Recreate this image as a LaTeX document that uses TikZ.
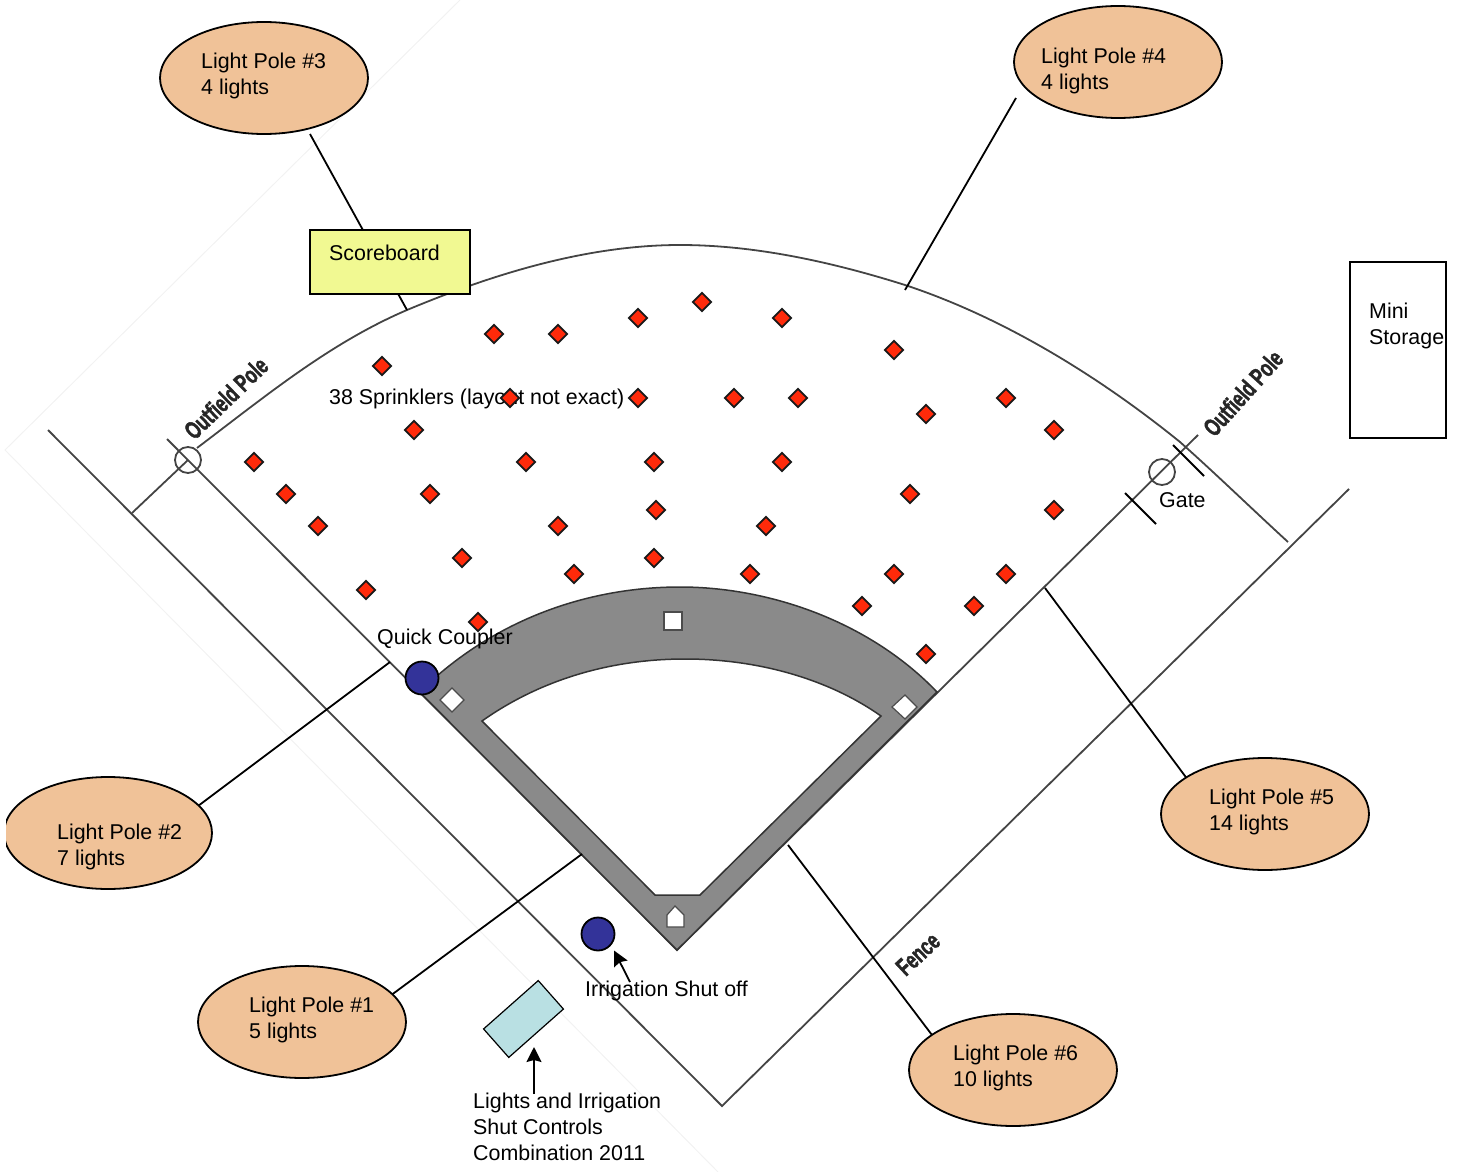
\documentclass[tikz,border=0pt]{standalone}
\usepackage{fontspec}
\setmainfont{Liberation Sans}
\newfontfamily\printfont{Liberation Sans}[BoldFeatures={FakeBold=2}]
\usetikzlibrary{shapes.geometric,arrows.meta}
\definecolor{poleFill}{HTML}{F0C298}
\definecolor{boardFill}{HTML}{F1F992}
\definecolor{shedFill}{HTML}{B9E0E3}
\definecolor{couplerFill}{HTML}{333399}
\definecolor{clayFill}{HTML}{8A8A8A}
\definecolor{scanLine}{HTML}{444444}
\definecolor{sprinklerFill}{HTML}{FF2A0A}
\tikzset{every node/.append style={font=\fontsize{21.4}{26}\selectfont}}

\begin{document}
\begin{tikzpicture}
[x=1pt,y=-1pt,
  fieldLine/.style={-,draw=scanLine,line width=1.8pt},
  faintLine/.style={-,draw=black!5,line width=1pt},
  lineDecorate/.style={-,black,line width=1.8pt},
  arrowDecorate/.style={-{Stealth[length=15pt,width=15pt,inset=2pt]},black,line width=1.8pt},
  sprinklerDecorate/.style={shape=diamond,draw=black!90,fill=sprinklerFill,line width=1.8pt,inner sep=0pt,minimum size=19pt},
  poleDecorate/.style={shape=ellipse,draw=black,fill=poleFill,line width=1.8pt,inner sep=0pt,minimum width=208pt,minimum height=112pt},
  couplerDecorate/.style={shape=ellipse,draw=black,fill=couplerFill,line width=1.8pt,inner sep=0pt,minimum width=33pt,minimum height=33pt},
  labelDecorate/.style={anchor=west,align=left,inner sep=0pt},
  printDecorate/.style={font=\fontsize{25}{30}\printfont\selectfont\bfseries,xscale=0.68,text=black!85,inner sep=0pt},
  baseDecorate/.style={draw=black!70,fill=white,line width=1.2pt}]
\useasboundingbox (0,0) rectangle (1460,1172);
%% edges of the scanned sheet
\draw[faintLine] (460,0) -- (5,450) -- (718,1172);
%% outfield, foul lines and fence
\coordinate (home) at (677,950);
\coordinate (leftPole) at (188,460);
\coordinate (gatePole) at (1162,472);
\draw[fieldLine] (167,439) -- (home) -- (1198,435);
\draw[fieldLine] (197,448) .. controls (267,395) and (330,343) .. (407,310)
  .. controls (493,274) and (587,245) .. (680,245)
  .. controls (755,245) and (832,262) .. (905,285)
  .. controls (1005,318) and (1101,378) .. (1180,442)
  .. controls (1216,474) and (1252,509) .. (1288,542);
\draw[fieldLine] (48,430) -- (722,1106) -- (1349,489);
\draw[fieldLine] (leftPole) -- (132,513);
\node (leftMark) at (leftPole) [shape=circle,draw=scanLine,line width=1.8pt,minimum size=26pt,inner sep=0pt] {};
\node (gateMark) at (gatePole) [shape=circle,draw=scanLine,line width=1.8pt,minimum size=26pt,inner sep=0pt] {};
\draw[lineDecorate] (1125,493) -- (1156,524);
\draw[lineDecorate] (1173,445) -- (1204,476);
%% infield
\draw[fill=clayFill,draw=black!80,line width=1.5pt,even odd rule]
  (419.5,692) .. controls (495,618) and (590,587) .. (680,587)
  .. controls (770,587) and (870,622) .. (937,692) -- (home) -- cycle
  (482,721) .. controls (540,680) and (610,659) .. (685,659)
  .. controls (760,659) and (830,680) .. (881,716) -- (700,895) -- (655,895) -- cycle;
\draw[baseDecorate] (664,612) rectangle (682,630);
\draw[baseDecorate] (452,688) -- (464,700) -- (452,712) -- (440,700) -- cycle;
\draw[baseDecorate] (905,695) -- (917,707) -- (905,719) -- (892,707) -- cycle;
\draw[baseDecorate] (675,906) -- (684,915) -- (684,927) -- (667,927) -- (667,915) -- cycle;
%% light pole callouts
\foreach \polename/\sx/\sy/\ex/\ey in {
  poleThree/310/134/407/310,
  poleFour/1016/98/905/290,
  poleFive/1188/780/1045/588,
  poleSix/932/1035/788/845,
  poleTwo/198/806/390/662,
  poleOne/390/996/582/854}
{
  \coordinate (\polename Start) at (\sx,\sy);
  \coordinate (\polename End) at (\ex,\ey);
  \draw[lineDecorate] (\polename Start) -- (\polename End);
}
\foreach \polename/\x/\y/\tx/\ty/\txt in {
  poleThree/264/78/201/76/{Light Pole \#3\\4 lights},
  poleFour/1118/62/1041/71/{Light Pole \#4\\4 lights},
  poleFive/1265/814/1209/812/{Light Pole \#5\\14 lights},
  poleSix/1013/1070/953/1068/{Light Pole \#6\\10 lights},
  poleOne/302/1022/249/1020/{Light Pole \#1\\5 lights}}
{
  \node (\polename) at (\x,\y) [poleDecorate] {};
  \node (\polename Text) at (\tx,\ty) [labelDecorate] {\txt};
}
\begin{scope}
  \clip (6,760) rectangle (230,900);
  \node (poleTwo) at (108,833) [poleDecorate] {};
\end{scope}
\node (poleTwoText) at (57,847) [labelDecorate] {Light Pole \#2\\7 lights};
%% boxes
\node (board) at (390,262) [shape=rectangle,draw=black,fill=boardFill,line width=1.8pt,minimum width=160pt,minimum height=64pt,inner sep=0pt] {};
\node (boardText) at (329,253) [labelDecorate] {Scoreboard};
\node (storage) at (1398,350) [shape=rectangle,draw=black,fill=white,line width=1.8pt,minimum width=96pt,minimum height=176pt,inner sep=0pt] {};
\node (storageText) at (1369,325.5) [labelDecorate] {Mini\\Storage};
\node (controls) at (523.5,1019) [shape=rectangle,draw=black,fill=shedFill,line width=1.2pt,minimum width=73pt,minimum height=38pt,inner sep=0pt,rotate=41.5] {};
%% text
\node (sprinklerText) at (329,399) [labelDecorate] {38 Sprinklers (layout not exact)};
\node (gateText) at (1159,500) [labelDecorate] {Gate};
\node (controlsText) at (473,1127) [labelDecorate] {Lights and Irrigation\\Shut Controls\\Combination 2011};
\node (shutText) at (585,991) [labelDecorate] {Irrigation Shut off};
\node (leftPoleText) at (226,398) [rotate=44,printDecorate] {Outfield Pole};
\node (rightPoleText) at (1243,393) [rotate=48,printDecorate] {Outfield Pole};
\node (fenceText) at (918,954) [rotate=43,printDecorate] {Fence};
%% sprinklers
\foreach \nodename/\x/\y in {
  0/382/366, 1/494/334, 2/558/334, 3/638/318, 4/702/302, 5/782/318, 6/894/350,
  7/510/398, 8/638/398, 9/734/398, 10/798/398, 11/926/414, 12/1006/398, 13/1054/430,
  14/414/430, 15/254/462, 16/526/462, 17/654/462, 18/782/462, 19/286/494,
  20/430/494, 21/910/494, 22/318/526, 23/558/526, 24/656/510, 25/766/526, 26/1054/510,
  27/462/558, 28/574/574, 29/654/558, 30/750/574, 31/894/574, 32/1006/574,
  33/366/590, 34/478/622, 35/862/606, 36/974/606, 37/926/654}
{
  \node (spr\nodename) at (\x,\y) [sprinklerDecorate] {};
}
%% couplers and arrows
\node (coupler) at (422,678) [couplerDecorate] {};
\node (shutoff) at (598,934) [couplerDecorate] {};
\node (couplerText) at (377,639) [labelDecorate] {Quick Coupler};
\coordinate (shutTail) at (630,982);
\coordinate (shutTip) at (614,950.5);
\coordinate (controlsTail) at (534,1094);
\coordinate (controlsTip) at (534,1047);
\draw[arrowDecorate] (shutTail) -- (shutTip);
\draw[arrowDecorate] (controlsTail) -- (controlsTip);
\end{tikzpicture}
\end{document}
